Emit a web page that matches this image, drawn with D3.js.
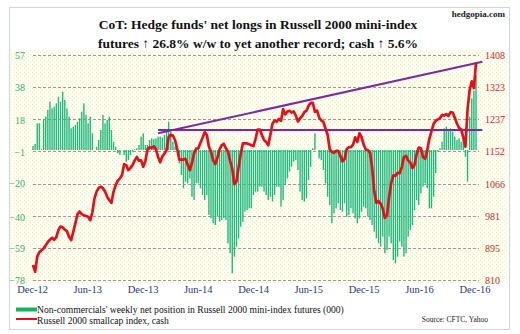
<!DOCTYPE html>
<html>
<head>
<meta charset="utf-8">
<script src="https://cdn.jsdelivr.net/npm/d3@7"></script>
<style>
  html, body { margin: 0; padding: 0; background: #fff; }
  svg { display: block; }
  text { font-family: "Liberation Serif", "Times New Roman", serif; }
</style>
</head>
<body>
<div id="chart"></div>
<script>
// Weekly CoT net position of non-commercials (000 contracts), week starting Dec 4, 2012
const netLongs = [
  2.4, 3.6, 16, 16, 0.5, 18.6, 20, 24, 29, 25,
  26, 28, 32, 29, 35, 30, 25, 20, 13, 14,
  15, 17, 19, 23, 28, 21, 16, 20, 10, 0,
  2, 6, 12, 21, 16, 18, 20, 12, 5, 2,
  -2, -3, 0, -3, -7, -6, -3, -1, 0.5, 1,
  3, 8, 10, 3, 3, 6, 7, 6.5, 7, 8,
  8, 7.5, 9, 11, 17, 11, 5, 2, 1, -8,
  -15, -23, -19, -20, -17, -28, -30, -20, -20, -23,
  -27, -30, -27, -39, -41, -44, -45, -40, -43, -42,
  -41, -42, -56, -62, -74, -64, -58, -53, -46, -43,
  -37, -36, -35, -35, -27, -25, -25, -22, -22, -25,
  -27, -30, -28, -31, -27, -22, -22, -34, -30, -21,
  -17, -13, -10, -7, -6, -12, -25, -30, -31, -29,
  -18, -10, 1, 10, 0, -5, -6, -12, -20, -28,
  -33, -44, -38, -35, -32, -36, -37, -32, -40, -39,
  -35, -38, -41, -44, -41, -37, -34, -35, -40, -42,
  -45, -49, -53, -56, -58, -52, -62, -60, -52, -56,
  -66, -68, -64, -55, -58, -64, -62, -52, -48, -45,
  -36, -30, -33, -26, -22, -20, -23, -35, -35, -28,
  -14, -1, 1, 5, 13, 14, 12, 13, 11, 8,
  6, 7, 5, 6, -4, -19, 20, 31, 35.5, 45
];

// Russell 2000 small-cap index, cash, same weeks
const russell = [
  850, 832, 872, 884, 889, 894, 902, 911, 917, 922,
  917, 924, 943, 952, 950, 944, 940, 925, 916, 938,
  961, 985, 992, 985, 982, 980, 978, 969, 990, 1027,
  1045, 1055, 1058, 1054, 1045, 1031, 1022, 1015, 1045, 1062,
  1074, 1080, 1089, 1118, 1115, 1102, 1108, 1116, 1128, 1137,
  1127, 1128, 1111, 1126, 1157, 1163, 1161, 1165, 1158, 1137,
  1123, 1138, 1146, 1155, 1190, 1196, 1194, 1182, 1159, 1130,
  1130, 1130, 1132, 1116, 1102, 1121, 1147, 1159, 1160, 1175,
  1188, 1203, 1196, 1164, 1151, 1128, 1118, 1135, 1157, 1168,
  1172, 1160, 1151, 1127, 1106, 1065, 1072, 1110, 1145, 1173,
  1173, 1173, 1171, 1168, 1166, 1185, 1210, 1210, 1195, 1182,
  1177, 1168, 1197, 1226, 1234, 1231, 1238, 1233, 1264, 1250,
  1258, 1260, 1255, 1258, 1247, 1231, 1240, 1246, 1256, 1260,
  1273, 1281, 1281, 1257, 1260, 1242, 1234, 1230, 1212, 1196,
  1157, 1150, 1148, 1153, 1153, 1140, 1125, 1132, 1158, 1163,
  1163, 1170, 1189, 1177, 1200, 1190, 1170, 1157, 1155, 1148,
  1108, 1045, 1015, 1020, 1013, 1000, 975, 982, 1030, 1068,
  1088, 1087, 1095, 1094, 1110, 1137, 1140, 1128, 1122, 1108,
  1116, 1145, 1162, 1160, 1137, 1132, 1155, 1186, 1205, 1225,
  1233, 1237, 1240, 1249, 1247, 1251, 1246, 1256, 1255, 1241,
  1226, 1214, 1211, 1189, 1164, 1262, 1315, 1338, 1320, 1388
];

// Axis tick labels
const leftTicks = [57, 38, 18, -1, -20, -40, -59, -78];
const rightTicks = [1408, 1323, 1237, 1152, 1066, 981, 895, 810];
const xTickLabels = ["Dec-12", "Jun-13", "Dec-13", "Jun-14", "Dec-14", "Jun-15", "Dec-15", "Jun-16", "Dec-16"];

// Trend lines on the index (start/end date, index level)
const trendRising = [["2014-01-21", 1200], ["2016-12-27", 1390]];
const trendFlat   = [["2014-01-21", 1209], ["2016-12-27", 1209]];

const W = 520, H = 334;
const parse = d3.timeParse("%Y-%m-%d");
const fmtTick = d3.timeFormat("%b-%y");
const firstWeek = parse("2012-12-04");
const dates = netLongs.map((_, i) => d3.timeWeek.offset(firstWeek, i));

const x = d3.scaleTime().domain([dates[0], dates[dates.length - 1]]).range([33, 476]);
const yL = d3.scaleLinear().domain([-78, 57]).range([280, 55]);
const yR = d3.scaleLinear().domain([810, 1408]).range([280, 55]);

const svg = d3.select("#chart").append("svg").attr("width", W).attr("height", H);

// dotted plot-area fill
const defs = svg.append("defs");
const pat = defs.append("pattern").attr("id", "dots").attr("width", 4).attr("height", 4)
  .attr("patternUnits", "userSpaceOnUse");
pat.append("rect").attr("width", 4).attr("height", 4).attr("fill", "#fffff6");
pat.append("rect").attr("x", 0).attr("y", 0).attr("width", 1).attr("height", 1).attr("fill", "#f3eec4");
pat.append("rect").attr("x", 2).attr("y", 2).attr("width", 1).attr("height", 1).attr("fill", "#f3eec4");

svg.append("rect").attr("x", 0).attr("y", 0).attr("width", W).attr("height", H).attr("fill", "#fff");
svg.append("rect").attr("x", 10).attr("y", 50).attr("width", 498).attr("height", 234).attr("fill", "url(#dots)");
svg.append("rect").attr("x", 9.5).attr("y", 7.5).attr("width", 500).attr("height", 322)
  .attr("fill", "none").attr("stroke", "#cdd7e3").attr("stroke-width", 1);

// Title
const title = svg.append("text").attr("x", 258).attr("text-anchor", "middle")
  .attr("font-weight", "bold").attr("font-size", 13.5).attr("fill", "#111");
title.append("tspan").attr("x", 258).attr("y", 29).text("CoT: Hedge funds' net longs in Russell 2000 mini-index");
title.append("tspan").attr("x", 258).attr("y", 48).text("futures \u2191 26.8% w/w to yet another record; cash \u2191 5.6%");

svg.append("text").attr("x", 505).attr("y", 17).attr("text-anchor", "end")
  .attr("font-weight", "bold").attr("font-size", 9).attr("fill", "#222").text("hedgopia.com");

// Gridlines
svg.append("g").selectAll("line").data(rightTicks).join("line")
  .attr("x1", 33).attr("x2", 479)
  .attr("y1", d => Math.round(yR(d)) + 0.5).attr("y2", d => Math.round(yR(d)) + 0.5)
  .attr("stroke", "#9a9a9a").attr("stroke-width", 1).attr("stroke-dasharray", "3,2");

// Left axis (net position)
const axL = svg.append("g").attr("transform", "translate(25,0)")
  .call(d3.axisLeft(yL).tickValues(leftTicks).tickSize(0).tickPadding(0).tickFormat(d3.format("d")));
axL.select(".domain").remove();
axL.selectAll("text").attr("font-family", "Liberation Serif").attr("font-size", 10)
  .attr("fill", "#35a877").attr("dy", "0.35em");

// Right axis (index)
const axR = svg.append("g").attr("transform", "translate(485,0)")
  .call(d3.axisRight(yR).tickValues(rightTicks).tickSize(0).tickPadding(0).tickFormat(d3.format("d")));
axR.select(".domain").remove();
axR.selectAll("text").attr("font-family", "Liberation Serif").attr("font-size", 10)
  .attr("fill", "#c8283a").attr("dy", "0.35em");

// Bottom axis
const xTickDates = xTickLabels.map(s => d3.timeParse("%b-%y")(s));
const axB = svg.append("g").attr("transform", "translate(0,284)")
  .call(d3.axisBottom(x).tickValues(xTickDates).tickSize(0).tickPadding(0).tickFormat(fmtTick));
axB.select(".domain").remove();
axB.selectAll("text").attr("font-family", "Liberation Serif").attr("font-size", 10.5)
  .attr("fill", "#2b3a64").attr("dy", "0.9em");

// Bars
const bw = 1.4;
svg.append("g").selectAll("rect").data(netLongs).join("rect")
  .attr("x", (d, i) => x(dates[i]) - bw / 2)
  .attr("width", bw)
  .attr("y", d => Math.min(yL(d), yL(0)))
  .attr("height", d => Math.abs(yL(d) - yL(0)))
  .attr("fill", "#22b87e");

// Trend lines
const tl = d3.line().x(d => x(parse(d[0]))).y(d => yR(d[1]));
[trendFlat, trendRising].forEach(t => {
  svg.append("path").attr("d", tl(t)).attr("fill", "none")
    .attr("stroke", "#7a2aa8").attr("stroke-width", 2);
});

// Index line
const line = d3.line().x((d, i) => x(dates[i])).y(d => yR(d));
svg.append("path").datum(russell).attr("d", line).attr("fill", "none")
  .attr("stroke", "#e3101c").attr("stroke-width", 2.7).attr("stroke-linejoin", "round");

// Legend
const lg = svg.append("g");
lg.append("rect").attr("x", 16).attr("y", 307.5).attr("width", 21).attr("height", 4).attr("fill", "#19b060");
lg.append("text").attr("x", 37).attr("y", 313).attr("font-size", 9.6).attr("fill", "#111")
  .text("Non-commercials' weekly net position in Russell 2000 mini-index futures (000)");
lg.append("line").attr("x1", 16).attr("x2", 37).attr("y1", 319).attr("y2", 319)
  .attr("stroke", "#e3101c").attr("stroke-width", 2);
lg.append("text").attr("x", 37).attr("y", 323.5).attr("font-size", 9.6).attr("fill", "#111")
  .text("Russell 2000 smallcap index, cash");
svg.append("text").attr("x", 488).attr("y", 322).attr("text-anchor", "end")
  .attr("font-size", 7.5).attr("fill", "#222").text("Source: CFTC, Yahoo");
</script>
</body>
</html>
